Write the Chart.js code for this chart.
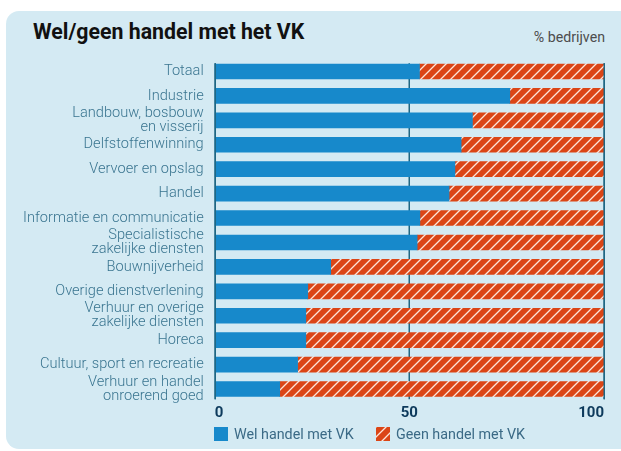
<!DOCTYPE html>
<html>
<head>
<meta charset="utf-8">
<script src="https://cdn.jsdelivr.net/npm/chart.js@4/dist/chart.umd.min.js"></script>
<style>
  html, body { margin:0; padding:0; background:#ffffff; }
  body { width:621px; height:451px; position:relative; overflow:hidden; font-family: Roboto, "Noto Sans", sans-serif; }
  #panel { position:absolute; left:6px; top:11px; width:630px; height:438px; background:#d4eaf3; border-radius:13px; }
  #title { position:absolute; left:33px; top:21px; font-size:21.3px; line-height:21px; font-weight:700; color:#111; white-space:nowrap; }
  #unit { position:absolute; right:16px; top:30px; font-size:14.2px; line-height:15px; color:#4d4d4d; white-space:nowrap; }
  #chart { position:absolute; left:0; top:0; }
  #legend { position:absolute; left:214px; top:426px; height:16px; font-size:14.3px; line-height:16px; color:#3b6a86; white-space:nowrap; }
  .item { position:absolute; top:0; }
  .sw { position:absolute; top:1px; left:0; width:14px; height:14px; }
  .lt { position:absolute; left:20px; top:0; }
</style>
</head>
<body>
<div id="panel"></div>
<div id="title">Wel/geen handel met het VK</div>
<div id="unit">% bedrijven</div>
<canvas id="chart" width="621" height="451"></canvas>
<div id="legend">
  <div class="item" style="left:0"><canvas class="sw" id="sw1" width="14" height="14"></canvas><span class="lt" id="lt1"></span></div>
  <div class="item" style="left:162px"><canvas class="sw" id="sw2" width="14" height="14"></canvas><span class="lt" id="lt2"></span></div>
</div>
<script>
const categories = [
  "Totaal",
  "Industrie",
  ["Landbouw, bosbouw", "en visserij"],
  "Delfstoffenwinning",
  "Vervoer en opslag",
  "Handel",
  "Informatie en communicatie",
  ["Specialistische", "zakelijke diensten"],
  "Bouwnijverheid",
  "Overige dienstverlening",
  ["Verhuur en overige", "zakelijke diensten"],
  "Horeca",
  "Cultuur, sport en recreatie",
  ["Verhuur en handel", "onroerend goed"]
];
const welHandel  = [52.6, 75.8, 66.2, 63.3, 61.7, 60.2, 52.7, 52.0, 29.8, 23.9, 23.4, 23.4, 21.3, 16.7];
const geenHandel = [47.4, 24.2, 33.8, 36.7, 38.3, 39.8, 47.3, 48.0, 70.2, 76.1, 76.6, 76.6, 78.7, 83.3];
const seriesNames = ["Wel handel met VK", "Geen handel met VK"];
const xTicks = [0, 50, 100];

const BLUE = "#1789cb";
const ORANGE = "#db4516";

function makeHatch() {
  const c = document.createElement("canvas");
  c.width = 10; c.height = 10;
  const g = c.getContext("2d");
  g.fillStyle = ORANGE;
  g.fillRect(0, 0, 10, 10);
  g.strokeStyle = "rgba(255,238,228,0.95)";
  g.lineWidth = 1.3;
  g.beginPath();
  g.moveTo(-5, 5); g.lineTo(5, -5);
  g.moveTo(0, 10); g.lineTo(10, 0);
  g.moveTo(5, 15); g.lineTo(15, 5);
  g.stroke();
  return g.createPattern(c, "repeat");
}
const hatch = makeHatch();

(function(){
  const a = document.getElementById("sw1").getContext("2d");
  a.fillStyle = BLUE; a.fillRect(0,0,14,14);
  const b = document.getElementById("sw2").getContext("2d");
  b.fillStyle = hatch; b.fillRect(0,0,14,14);
  document.getElementById("lt1").textContent = seriesNames[0];
  document.getElementById("lt2").textContent = seriesNames[1];
})();

function drawLines(chart, values) {
  const ctx = chart.ctx, xs = chart.scales.x, area = chart.chartArea;
  ctx.save();
  ctx.strokeStyle = "#1f6783";
  ctx.lineWidth = 1.5;
  values.forEach(v => {
    const x = Math.round(xs.getPixelForValue(v)) + 0.25;
    ctx.beginPath();
    ctx.moveTo(x, area.top + 4);
    ctx.lineTo(x, area.bottom - 2);
    ctx.stroke();
  });
  ctx.restore();
}
const gridPlugin = {
  id: "vgrid",
  beforeDatasetsDraw(chart) { drawLines(chart, xTicks); },
  afterDatasetsDraw(chart) { drawLines(chart, [xTicks[0], xTicks[xTicks.length-1]]); }
};

new Chart(document.getElementById("chart"), {
  type: "bar",
  data: {
    labels: categories,
    datasets: [
      { label: seriesNames[0], data: welHandel, backgroundColor: BLUE, borderWidth: 0, barThickness: 15 },
      { label: seriesNames[1], data: geenHandel, backgroundColor: hatch, borderWidth: 0, barThickness: 15 }
    ]
  },
  options: {
    indexAxis: "y",
    responsive: false,
    animation: false,
    devicePixelRatio: 1,
    layout: { padding: { left: 0, right: 17, top: 59.3, bottom: 29.8 } },
    plugins: { legend: { display: false }, tooltip: { enabled: false }, title: { display: false } },
    scales: {
      x: {
        stacked: true, min: 0, max: 100,
        afterBuildTicks(s) { s.ticks = xTicks.map(v => ({ value: v })); },
        afterFit(s) { s.height = 20; },
        grid: { display: false, drawTicks: false },
        border: { display: false },
        ticks: { padding: 3, align: "inner", maxRotation: 0, color: "#0d3a5c",
                 font: { family: "Roboto", size: 15, weight: "bold" } }
      },
      y: {
        stacked: true,
        afterFit(s) { s.width = 214.7; },
        grid: { display: false, drawTicks: false },
        border: { display: false },
        ticks: { padding: 11, color: "#3a7590", autoSkip: false,
                 font: { family: "Roboto", size: 14.6, weight: 300, lineHeight: 0.95 } }
      }
    }
  },
  plugins: [gridPlugin]
});
</script>
</body>
</html>
